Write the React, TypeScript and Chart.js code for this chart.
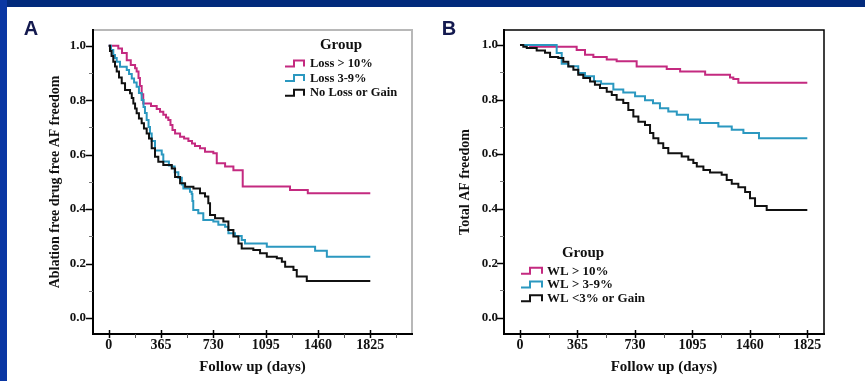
import React, { useEffect, useRef } from 'react';
import { Chart, registerables } from 'chart.js';

Chart.register(...registerables);

const SERIF = '"Liberation Serif", "Times New Roman", serif';
const SANS = '"Liberation Sans", Arial, sans-serif';

const MAGENTA = '#c42a80';
const CYAN = '#2b98c0';
const BLACK = '#111111';

// Tick values (days / survival)
const xTickValues = [0, 182.5, 365, 547.5, 730, 912.5, 1095, 1277.5, 1460, 1642.5, 1825, 2007.5];
const yTickValues = [0, 0.1, 0.2, 0.3, 0.4, 0.5, 0.6, 0.7, 0.8, 0.9, 1.0];

// ---------- Panel A: Ablation free drug free AF freedom ----------
const aLossGt10Days = [0, 67, 93, 126, 154, 184, 195, 208, 218, 230, 241, 295, 335, 358, 381, 400, 416, 431, 445, 463, 498, 526, 556, 581, 602, 637, 672, 730, 754, 812, 870, 935, 1265, 1389, 1825];
const aLossGt10Surv = [1.0, 0.99, 0.973, 0.947, 0.929, 0.917, 0.905, 0.881, 0.852, 0.822, 0.788, 0.779, 0.768, 0.757, 0.746, 0.736, 0.727, 0.709, 0.69, 0.678, 0.666, 0.659, 0.65, 0.641, 0.632, 0.623, 0.611, 0.605, 0.568, 0.556, 0.543, 0.483, 0.47, 0.458, 0.458];

const aLoss39Days = [0, 16, 32, 44, 56, 79, 126, 142, 161, 177, 195, 211, 230, 243, 253, 265, 278, 288, 300, 323, 370, 381, 420, 440, 460, 486, 510, 521, 567, 579, 584, 590, 625, 660, 730, 765, 812, 835, 881, 928, 951, 1103, 1440, 1522, 1825];
const aLoss39Surv = [1.0, 0.984, 0.966, 0.955, 0.941, 0.923, 0.911, 0.896, 0.88, 0.865, 0.849, 0.826, 0.801, 0.775, 0.753, 0.727, 0.701, 0.678, 0.65, 0.615, 0.6, 0.575, 0.56, 0.556, 0.535, 0.515, 0.49, 0.476, 0.464, 0.455, 0.43, 0.397, 0.385, 0.36, 0.354, 0.342, 0.335, 0.311, 0.301, 0.286, 0.274, 0.262, 0.247, 0.225, 0.225];

const aNoLossDays = [0, 9, 20, 32, 44, 56, 72, 91, 114, 149, 161, 172, 184, 195, 211, 230, 246, 265, 281, 300, 323, 346, 381, 440, 463, 498, 533, 591, 637, 672, 695, 707, 742, 800, 835, 870, 905, 928, 1009, 1056, 1103, 1173, 1208, 1231, 1289, 1312, 1382, 1825];
const aNoLossSurv = [1.0, 0.981, 0.962, 0.941, 0.924, 0.905, 0.883, 0.862, 0.837, 0.825, 0.808, 0.788, 0.769, 0.752, 0.733, 0.715, 0.696, 0.678, 0.659, 0.623, 0.592, 0.574, 0.562, 0.549, 0.518, 0.495, 0.482, 0.476, 0.458, 0.446, 0.421, 0.378, 0.366, 0.354, 0.323, 0.299, 0.274, 0.255, 0.25, 0.238, 0.225, 0.219, 0.207, 0.188, 0.176, 0.152, 0.136, 0.136];

// ---------- Panel B: Total AF freedom ----------
const bWlGt10Days = [0, 64, 360, 413, 466, 551, 614, 741, 932, 1017, 1176, 1334, 1355, 1387, 1825];
const bWlGt10Surv = [1.0, 0.994, 0.982, 0.964, 0.956, 0.947, 0.94, 0.921, 0.912, 0.903, 0.891, 0.881, 0.875, 0.862, 0.862];

const bWl39Days = [0, 233, 265, 307, 370, 413, 470, 515, 593, 656, 731, 794, 845, 889, 942, 996, 1067, 1144, 1260, 1345, 1419, 1518, 1825];
const bWl39Surv = [1.0, 0.971, 0.931, 0.922, 0.897, 0.885, 0.867, 0.858, 0.837, 0.826, 0.812, 0.797, 0.786, 0.768, 0.756, 0.744, 0.727, 0.714, 0.701, 0.689, 0.677, 0.658, 0.658];

const bWlLt3Days = [0, 21, 43, 106, 159, 191, 243, 275, 307, 339, 370, 402, 445, 476, 508, 551, 583, 614, 656, 688, 720, 752, 794, 826, 847, 879, 910, 942, 1027, 1069, 1101, 1123, 1165, 1207, 1281, 1313, 1345, 1387, 1430, 1461, 1493, 1567, 1825];
const bWlLt3Surv = [1.0, 0.994, 0.989, 0.98, 0.972, 0.956, 0.952, 0.939, 0.921, 0.909, 0.891, 0.879, 0.866, 0.854, 0.842, 0.829, 0.817, 0.799, 0.787, 0.762, 0.738, 0.719, 0.707, 0.677, 0.658, 0.64, 0.622, 0.603, 0.591, 0.579, 0.567, 0.554, 0.542, 0.532, 0.524, 0.505, 0.491, 0.478, 0.461, 0.438, 0.41, 0.395, 0.395];

const aLegendLabels = ['Loss > 10%', 'Loss 3-9%', 'No Loss or Gain'];
const bLegendLabels = ['WL > 10%', 'WL > 3-9%', 'WL <3% or Gain'];
const legendColors = [MAGENTA, CYAN, BLACK];

function pts(days: number[], surv: number[]) {
  return days.map((d, i) => ({ x: d, y: surv[i] }));
}

type PanelCfg = {
  letter: string;
  letterX: number;
  xMin: number;
  xMax: number;
  yMin: number;
  yMax: number;
  padRight: number;
  yWidth: number;
  yTitle: string;
  yTitlePad: number;
  yTickPad: number;
  boxColor: string;
  boxWidth: number;
  series: { days: number[]; surv: number[]; color: string }[];
  legendLabels: string[];
  legend: { titleX: number; titleY: number; y0: number; dy: number; symX: number; symW: number; textX: number; size: number; titleSize: number };
};

function buildChart(canvas: HTMLCanvasElement, p: PanelCfg) {
  const framePlugin = {
    id: 'framePlugin',
    afterDraw(chart: any) {
      const { ctx, chartArea: a, scales } = chart;
      const xs = scales.x;
      const ys = scales.y;
      ctx.save();
      // top / right box
      ctx.strokeStyle = p.boxColor;
      ctx.lineWidth = p.boxWidth;
      ctx.beginPath();
      ctx.moveTo(a.left, a.top);
      ctx.lineTo(a.right, a.top);
      ctx.lineTo(a.right, a.bottom);
      ctx.stroke();
      // axes
      ctx.strokeStyle = '#000';
      ctx.lineWidth = 2;
      ctx.beginPath();
      ctx.moveTo(a.left, a.top - 1);
      ctx.lineTo(a.left, a.bottom);
      ctx.lineTo(a.right + 1, a.bottom);
      ctx.stroke();
      // x tick marks
      for (const v of xTickValues) {
        if (v < xs.min || v > xs.max) continue;
        const px = Math.round(xs.getPixelForValue(v)) + 0.5;
        const major = v % 365 === 0;
        ctx.strokeStyle = major ? '#000' : '#555';
        ctx.lineWidth = major ? 1.5 : 1;
        ctx.beginPath();
        ctx.moveTo(px, a.bottom - (major ? 4 : 0));
        ctx.lineTo(px, a.bottom + 4);
        ctx.stroke();
      }
      // y tick marks
      for (const v of yTickValues) {
        const py = Math.round(ys.getPixelForValue(v)) + 0.5;
        const major = Math.round(v * 10) % 2 === 0;
        ctx.strokeStyle = major ? '#000' : '#777';
        ctx.lineWidth = major ? 1.5 : 1;
        ctx.beginPath();
        ctx.moveTo(a.left - (major ? 7 : 4), py);
        ctx.lineTo(a.left, py);
        ctx.stroke();
      }
      // legend
      const L = p.legend;
      ctx.fillStyle = '#111';
      ctx.textBaseline = 'middle';
      ctx.textAlign = 'center';
      ctx.font = `bold ${L.titleSize}px ${SERIF}`;
      ctx.fillText('Group', L.titleX, L.titleY);
      ctx.textAlign = 'left';
      ctx.font = `bold ${L.size}px ${SERIF}`;
      p.legendLabels.forEach((lab, i) => {
        const y = L.y0 + i * L.dy;
        ctx.strokeStyle = legendColors[i];
        ctx.lineWidth = 2;
        ctx.beginPath();
        const m = Math.round(L.symW * 0.45);
        ctx.moveTo(L.symX, y + 3);
        ctx.lineTo(L.symX + m, y + 3);
        ctx.lineTo(L.symX + m, y - 3);
        ctx.lineTo(L.symX + L.symW, y - 3);
        ctx.lineTo(L.symX + L.symW, y + 3);
        ctx.stroke();
        ctx.fillStyle = '#111';
        ctx.fillText(lab, L.textX, y + 0.5);
      });
      // panel letter
      ctx.fillStyle = '#141a4f';
      ctx.textAlign = 'center';
      ctx.textBaseline = 'alphabetic';
      ctx.font = `bold 20px ${SANS}`;
      ctx.fillText(p.letter, p.letterX, 35);
      ctx.restore();
    },
  };

  return new Chart(canvas, {
    type: 'line',
    data: {
      datasets: p.series.map((s) => ({
        data: pts(s.days, s.surv),
        borderColor: s.color,
        backgroundColor: s.color,
        borderWidth: 2,
        stepped: 'before' as const,
        pointRadius: 0,
        fill: false,
      })),
    },
    options: {
      responsive: false,
      maintainAspectRatio: false,
      animation: false,
      layout: { padding: { left: 0, top: 30, right: p.padRight, bottom: 0 } },
      plugins: { legend: { display: false }, tooltip: { enabled: false } },
      scales: {
        x: {
          type: 'linear',
          min: p.xMin,
          max: p.xMax,
          grid: { display: false, drawTicks: false },
          border: { display: false },
          afterBuildTicks: (s: any) => {
            s.ticks = xTickValues.filter((v) => v >= p.xMin && v <= p.xMax).map((v) => ({ value: v }));
          },
          afterFit: (s: any) => {
            s.height = 47;
          },
          ticks: {
            autoSkip: false,
            maxRotation: 0,
            minRotation: 0,
            padding: 3,
            color: '#111',
            font: { family: SERIF, size: 14, weight: 'bold' },
            callback: (v: any) => (Number(v) % 365 === 0 ? String(v) : ''),
          },
          title: {
            display: true,
            text: 'Follow up (days)',
            color: '#111',
            font: { family: SERIF, size: 15, weight: 'bold', lineHeight: 1.2 },
            padding: { top: 0, bottom: 5 },
          },
        },
        y: {
          type: 'linear',
          min: p.yMin,
          max: p.yMax,
          grid: { display: false, drawTicks: false },
          border: { display: false },
          afterBuildTicks: (s: any) => {
            s.ticks = yTickValues.map((v) => ({ value: v }));
          },
          afterFit: (s: any) => {
            s.width = p.yWidth;
          },
          ticks: {
            autoSkip: false,
            padding: p.yTickPad,
            color: '#111',
            font: { family: SERIF, size: 13, weight: 'bold' },
            callback: (v: any) => (Math.round(Number(v) * 10) % 2 === 0 ? Number(v).toFixed(1) : ''),
          },
          title: {
            display: true,
            text: p.yTitle,
            color: '#111',
            font: { family: SERIF, size: 14, weight: 'bold', lineHeight: 1.2 },
            padding: { top: p.yTitlePad, bottom: 0 },
          },
        },
      },
    },
    plugins: [framePlugin],
  } as any);
}

export default function App() {
  const refA = useRef<HTMLCanvasElement>(null);
  const refB = useRef<HTMLCanvasElement>(null);

  useEffect(() => {
    const chartA = buildChart(refA.current!, {
      letter: 'A',
      letterX: 31,
      xMin: -109.5,
      xMax: 2116,
      yMin: -0.0588,
      yMax: 1.0577,
      padRight: 20,
      yWidth: 93,
      yTitle: 'Ablation free drug free AF freedom',
      yTitlePad: 46.6,
      yTickPad: 7,
      boxColor: '#b8b8b8',
      boxWidth: 2,
      series: [
        { days: aNoLossDays, surv: aNoLossSurv, color: BLACK },
        { days: aLoss39Days, surv: aLoss39Surv, color: CYAN },
        { days: aLossGt10Days, surv: aLossGt10Surv, color: MAGENTA },
      ],
      legendLabels: aLegendLabels,
      legend: { titleX: 341, titleY: 45, y0: 63.5, dy: 14.6, symX: 285, symW: 19, textX: 310, size: 12.5, titleSize: 15 },
    });
    const chartB = buildChart(refB.current!, {
      letter: 'B',
      letterX: 17,
      xMin: -101.6,
      xMax: 1931,
      yMin: -0.0598,
      yMax: 1.055,
      padRight: 41,
      yWidth: 72,
      yTitle: 'Total AF freedom',
      yTitlePad: 25.1,
      yTickPad: 6,
      boxColor: '#000',
      boxWidth: 1.5,
      series: [
        { days: bWlLt3Days, surv: bWlLt3Surv, color: BLACK },
        { days: bWl39Days, surv: bWl39Surv, color: CYAN },
        { days: bWlGt10Days, surv: bWlGt10Surv, color: MAGENTA },
      ],
      legendLabels: bLegendLabels,
      legend: { titleX: 151, titleY: 252.7, y0: 270.7, dy: 13.8, symX: 89, symW: 21, textX: 115, size: 13, titleSize: 15 },
    });
    return () => {
      chartA.destroy();
      chartB.destroy();
    };
  }, []);

  return (
    <div style={{ position: 'absolute', left: 0, top: 0, width: 865, height: 381, background: '#fff', overflow: 'hidden' }}>
      <canvas ref={refA} width={432} height={381} style={{ position: 'absolute', left: 0, top: 0, width: 432, height: 381 }} />
      <canvas ref={refB} width={433} height={381} style={{ position: 'absolute', left: 432, top: 0, width: 433, height: 381 }} />
      <div style={{ position: 'absolute', left: 0, top: 0, width: 865, height: 7, background: '#022a7c' }} />
      <div style={{ position: 'absolute', left: 0, top: 0, width: 7, height: 381, background: '#0a37a3' }} />
    </div>
  );
}
